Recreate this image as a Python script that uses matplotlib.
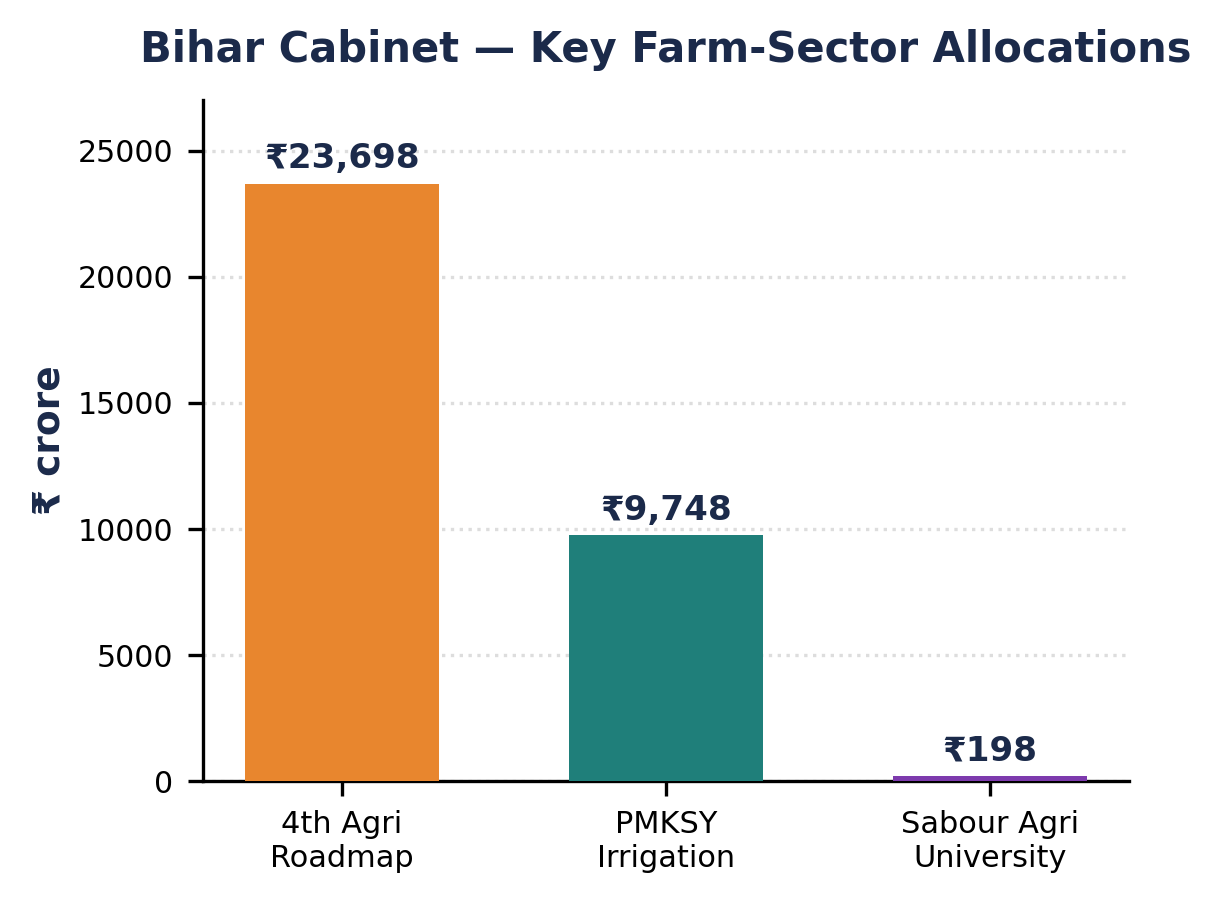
import matplotlib
matplotlib.use("Agg")
import matplotlib.pyplot as plt

categories = ["4th Agri\nRoadmap", "PMKSY\nIrrigation", "Sabour Agri\nUniversity"]
values = [23698, 9748, 198]
labels = ["₹23,698", "₹9,748", "₹198"]
colors = ["#E8862E", "#1F7F7A", "#7D3AAD"]

navy = "#1B2A4A"

fig, ax = plt.subplots(figsize=(4.07, 3.0), dpi=300)
fig.subplots_adjust(left=0.166, right=0.925, top=0.889, bottom=0.132)

bars = ax.bar(range(len(values)), values, width=0.6, color=colors, zorder=3)
ax.set_xticks(range(len(values)))
ax.set_xticklabels(categories, fontsize=7.3)
ax.tick_params(axis="y", labelsize=7.2)

for b, lab in zip(bars, labels):
    ax.annotate(lab, (b.get_x() + b.get_width() / 2, b.get_height()),
                xytext=(0, 2), textcoords="offset points",
                ha="center", va="bottom", fontsize=8.2, fontweight="bold", color=navy)

ax.set_ylim(0, max(values) * 1.14)
ax.set_ylabel("₹ crore", fontsize=9, fontweight="bold", color=navy, labelpad=2.5)
ax.set_title("Bihar Cabinet — Key Farm-Sector Allocations", fontsize=10, fontweight="bold", color=navy, pad=9)

ax.yaxis.grid(True, linestyle=":", color="#dddddd", linewidth=0.8, zorder=0)
ax.spines["top"].set_visible(False)
ax.spines["right"].set_visible(False)

fig.savefig("out.png")
